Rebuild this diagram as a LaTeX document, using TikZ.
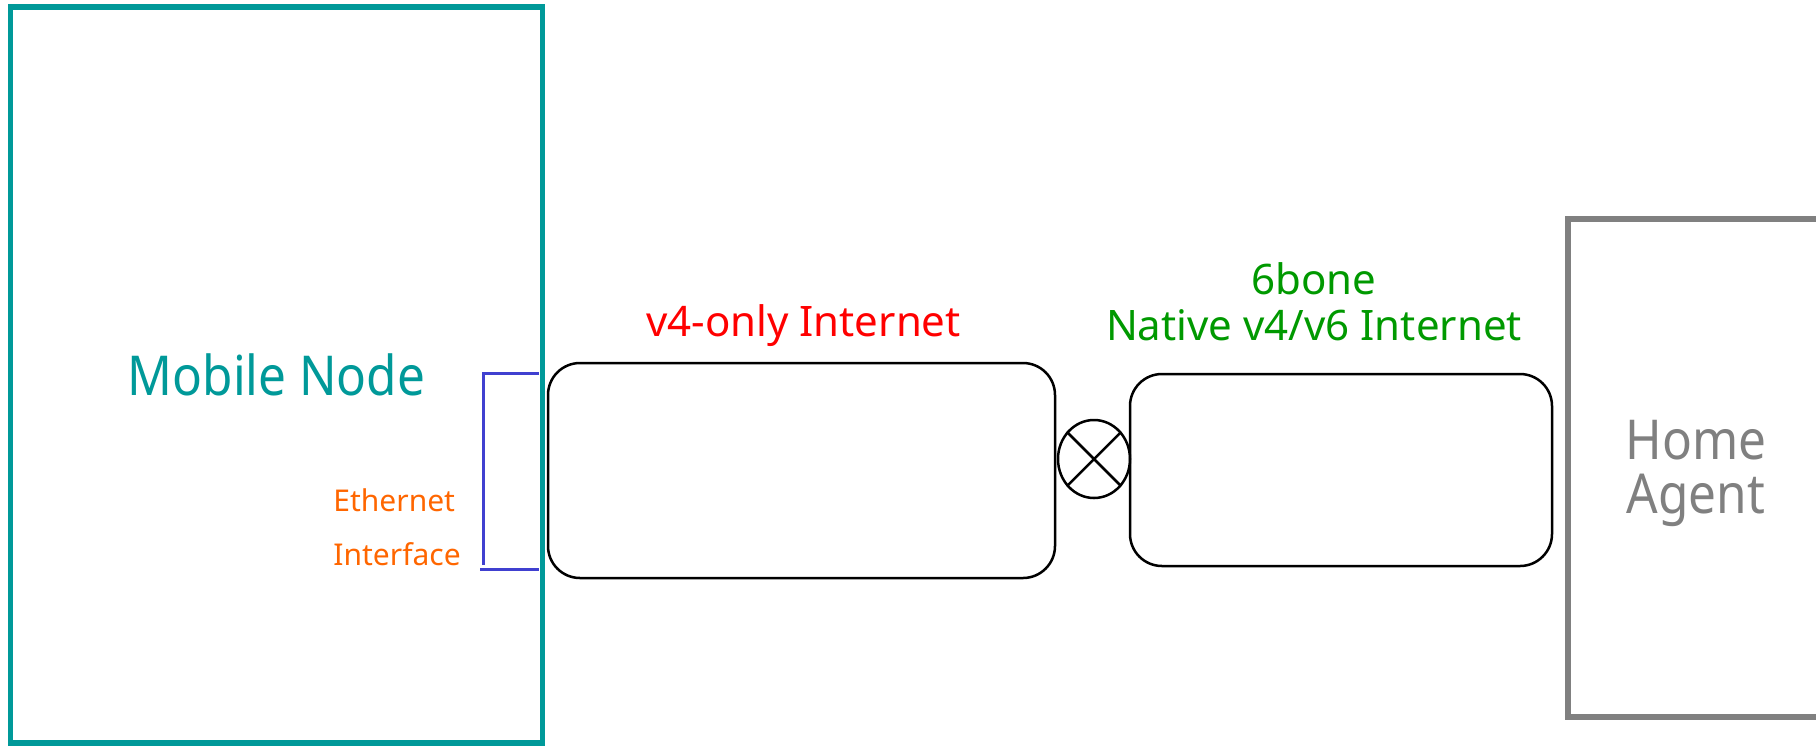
\documentclass[tikz,border=0pt]{standalone}
\usepackage{fontspec}
\setmainfont{Noto Sans}
\newfontfamily\tallsans[FakeStretch=0.9]{Noto Sans}
\usetikzlibrary{shapes.geometric}
\definecolor{mnteal}{RGB}{0,153,153}
\definecolor{hagray}{RGB}{128,128,128}
\definecolor{ifblue}{RGB}{64,64,208}
\definecolor{iforange}{RGB}{255,102,0}
\definecolor{sixgreen}{RGB}{0,153,0}
\begin{document}
\begin{tikzpicture}[x=0.5pt,y=-0.5pt,
  netbox/.style={draw,rounded corners=16pt,line width=1.25pt,inner sep=0pt}]
\useasboundingbox (0,0) rectangle (1816,746);
% the two end hosts
\node[draw=mnteal,line width=2.9pt,minimum width=266pt,minimum height=368pt,text=mnteal,font=\tallsans\fontsize{27.5}{30}\selectfont] (MN) at (276.5,375) {Mobile Node};
\node[draw=hagray,line width=2.8pt,minimum width=128pt,minimum height=249pt] (HA) at (1696,468) {};
\node[text=hagray,align=center,font=\tallsans\fontsize{27.5}{27}\selectfont] (HAlbl) at (1696,473) {Home\\Agent};
% networks in between
\node[netbox,minimum width=253.5pt,minimum height=107.5pt] (V4) at (801.5,470.5) {};
\node[netbox,minimum width=211pt,minimum height=96pt] (V6) at (1341,470) {};
\node[draw,ellipse,line width=1.25pt,inner sep=0pt,minimum width=36pt,minimum height=39pt] (R) at (1094,459) {};
\draw[line width=1.25pt] (R.135) -- (R.-45) (R.45) -- (R.-135);
\node[text=red,anchor=base,font=\fontsize{21}{25}\selectfont] (V4lbl) at (803.5,336) {v4-only Internet};
\node[text=sixgreen,align=center,font=\fontsize{21}{23}\selectfont] (V6lbl) at (1314,302) {6bone\\Native v4/v6 Internet};
% interface bracket
\draw[ifblue,line width=1.5pt] (539,373) -- (483,373) -- (483,565);
\draw[ifblue,line width=1.5pt] (480,569) -- (539,569);
\node[text=iforange,anchor=west,align=left,inner sep=0pt,font=\fontsize{15}{27}\selectfont] (IF) at (333,527.5) {Ethernet\\Interface};
\end{tikzpicture}
\end{document}
